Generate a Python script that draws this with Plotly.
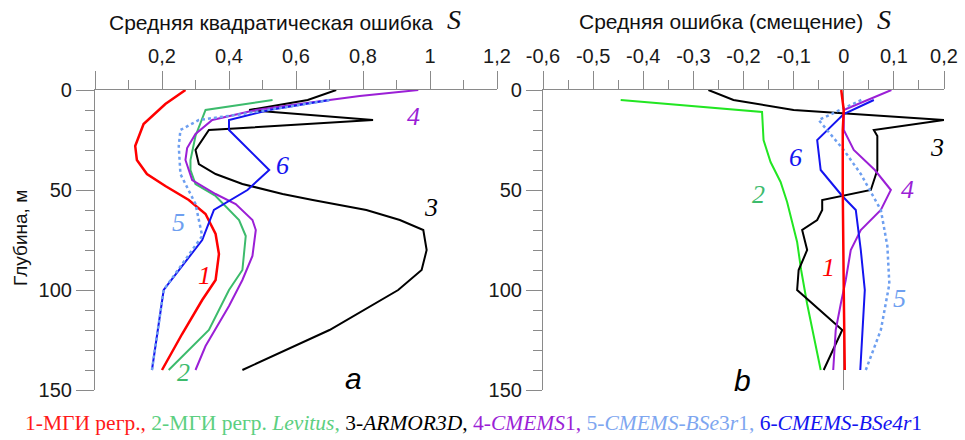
import plotly.graph_objects as go

# ---------------- data: panel a (RMS error) ----------------
a1_depth = [0, 7, 17, 28, 35, 42, 48, 55, 62, 72, 82, 95, 105, 122, 140]
a1_val = [0.27, 0.21, 0.145, 0.12, 0.125, 0.155, 0.21, 0.28, 0.33, 0.36, 0.37, 0.36, 0.32, 0.26, 0.20]

a2_depth = [5, 10, 23, 35, 40, 47, 53, 65, 73, 90, 100, 120, 140]
a2_val = [0.53, 0.33, 0.30, 0.285, 0.285, 0.30, 0.36, 0.43, 0.45, 0.44, 0.40, 0.34, 0.22]

a3_depth = [0, 5, 10, 15, 20, 30, 37, 42, 47, 52, 55, 60, 65, 70, 80, 90, 100, 120, 140]
a3_val = [0.72, 0.635, 0.46, 0.83, 0.34, 0.30, 0.31, 0.36, 0.44, 0.56, 0.65, 0.81, 0.91, 0.98, 0.99, 0.975, 0.905, 0.70, 0.44]

a4_depth = [0, 3, 7, 10, 15, 22, 29, 35, 45, 52, 57, 65, 70, 83, 95, 108, 128, 140]
a4_val = [0.965, 0.79, 0.61, 0.48, 0.35, 0.30, 0.275, 0.27, 0.29, 0.36, 0.42, 0.47, 0.48, 0.47, 0.44, 0.40, 0.33, 0.30]

a5_depth = [5, 12, 15, 20, 28, 42, 57, 65, 73, 100, 140]
a5_val = [0.70, 0.44, 0.31, 0.255, 0.25, 0.255, 0.30, 0.31, 0.32, 0.205, 0.17]

a6_depth = [5, 10, 15, 20, 40, 50, 60, 75, 100, 140]
a6_val = [0.70, 0.52, 0.40, 0.40, 0.52, 0.455, 0.355, 0.32, 0.205, 0.17]

# ---------------- data: panel b (mean error / bias) ----------------
b1_depth = [0, 5, 10, 20, 50, 100, 140]
b1_val = [-0.005, -0.002, 0.0, -0.002, -0.002, 0.0, 0.002]

b2_depth = [5, 11, 25, 36, 46, 56, 66, 76, 90, 107, 140]
b2_val = [-0.445, -0.163, -0.16, -0.146, -0.126, -0.113, -0.103, -0.093, -0.085, -0.073, -0.046]

b3_depth = [0, 5, 10, 15, 20, 23, 40, 50, 55, 60, 65, 70, 80, 90, 100, 120, 140]
b3_val = [-0.27, -0.22, -0.10, 0.20, 0.06, 0.067, 0.067, 0.054, -0.043, -0.043, -0.053, -0.083, -0.073, -0.090, -0.093, -0.003, -0.04]

b4_depth = [0, 10, 20, 30, 40, 50, 60, 70, 80, 95, 107, 120, 140]
b4_val = [0.095, 0.0, 0.0, 0.02, 0.062, 0.094, 0.074, 0.034, 0.014, 0.004, -0.006, -0.016, -0.021]

b5_depth = [5, 15, 30, 42, 60, 78, 97, 120, 140]
b5_val = [0.035, -0.05, 0.0, 0.034, 0.074, 0.087, 0.091, 0.074, 0.044]

b6_depth = [5, 12, 25, 40, 53, 60, 80, 100, 140]
b6_val = [0.06, 0.0, -0.053, -0.046, -0.003, 0.024, 0.034, 0.042, 0.033]

# ---------------- tick labels ----------------
xa_tickvals = [0, 0.2, 0.4, 0.6, 0.8, 1.0, 1.2]
xa_ticktext = ["", "0,2", "0,4", "0,6", "0,8", "1", "1,2"]
xb_tickvals = [-0.6, -0.5, -0.4, -0.3, -0.2, -0.1, 0, 0.1, 0.2]
xb_ticktext = ["-0,6", "-0,5", "-0,4", "-0,3", "-0,2", "-0,1", "0", "0,1", "0,2"]
y_tickvals = [0, 50, 100, 150]
y_ticktext = ["0", "50", "100", "150"]

RED = "#ff0000"
GREEN_A = "#3cbb6c"
GREEN_B = "#22e622"
BLACK = "#000000"
PURPLE = "#9b1fd6"
LBLUE = "#6e9ff0"
BLUE = "#1414f0"

fig = go.Figure()

def add(x, y, color, width, xa, ya, dash="solid"):
    fig.add_trace(go.Scatter(x=x, y=y, mode="lines", xaxis=xa, yaxis=ya,
                             line=dict(color=color, width=width, dash=dash),
                             showlegend=False, hoverinfo="skip"))

add(a1_val, a1_depth, RED, 2.5, "x", "y")
add(a2_val, a2_depth, GREEN_A, 2, "x", "y")
add(a3_val, a3_depth, BLACK, 2, "x", "y")
add(a4_val, a4_depth, PURPLE, 2, "x", "y")
add(a6_val, a6_depth, BLUE, 2, "x", "y")
add(a5_val, a5_depth, LBLUE, 2.5, "x", "y", "dot")

add(b2_val, b2_depth, GREEN_B, 2, "x2", "y2")
add(b3_val, b3_depth, BLACK, 2, "x2", "y2")
add(b4_val, b4_depth, PURPLE, 2, "x2", "y2")
add(b6_val, b6_depth, BLUE, 2, "x2", "y2")
add(b5_val, b5_depth, LBLUE, 2.5, "x2", "y2", "dot")
add(b1_val, b1_depth, RED, 2.5, "x2", "y2")

W, H = 965, 440
def px(v):
    return v / W
def py(v):
    return 1 - v / H

AX = "#8a8a8a"
TICKFONT = dict(family="Liberation Sans, Arial", size=20, color="#1a1a1a")

common_x = dict(side="top", showline=True, linecolor=AX, linewidth=1.2,
                ticks="outside", ticklen=18, tickcolor=AX, tickwidth=1.2,
                showgrid=False, tickfont=TICKFONT, fixedrange=True, automargin=False)
common_y = dict(autorange=False, range=[150, 0], showline=True, linecolor=AX, linewidth=1.2,
                ticks="outside", ticklen=18, tickcolor=AX, tickwidth=1.2,
                showgrid=False, zeroline=False, tickfont=TICKFONT, automargin=False,
                tickvals=y_tickvals, ticktext=y_ticktext,
                minor=dict(dtick=10, tick0=0, ticks="outside", ticklen=9, tickcolor=AX, tickwidth=1.2),
                domain=[py(390), py(90)])

fig.update_layout(
    width=W, height=H,
    margin=dict(l=0, r=0, t=0, b=0, autoexpand=False),
    plot_bgcolor="white", paper_bgcolor="white",
    xaxis=dict(common_x, range=[0, 1.2], domain=[px(95), px(497)], anchor="y",
               tickvals=xa_tickvals, ticktext=xa_ticktext, zeroline=False,
               minor=dict(dtick=0.1, tick0=0, ticks="outside", ticklen=9, tickcolor=AX, tickwidth=1.2)),
    yaxis=dict(common_y, anchor="x"),
    xaxis2=dict(common_x, range=[-0.6, 0.2], domain=[px(543), px(944)], anchor="y2",
                tickvals=xb_tickvals, ticktext=xb_ticktext,
                zeroline=True, zerolinecolor=AX, zerolinewidth=1.2,
                minor=dict(dtick=0.05, tick0=0, ticks="outside", ticklen=9, tickcolor=AX, tickwidth=1.2)),
    yaxis2=dict(common_y, anchor="x2", ticklen=16),
)

ann = []
SANS = "Liberation Sans, Arial"
SERIF = "Liberation Serif, Times New Roman"
# axis titles
ann.append(dict(x=px(271), y=py(22), text="Средняя квадратическая ошибка", font=dict(family=SANS, size=21, color="#111")))
ann.append(dict(x=px(454), y=py(20), text="<i>S</i>", font=dict(family=SERIF, size=28, color="#111")))
ann.append(dict(x=px(721), y=py(21), text="Средняя ошибка (смещение)", font=dict(family=SANS, size=21, color="#111")))
ann.append(dict(x=px(884), y=py(20), text="<i>S</i>", font=dict(family=SERIF, size=28, color="#111")))
ann.append(dict(x=px(20), y=py(238), text="Глубина, м", textangle=-90, font=dict(family=SANS, size=19, color="#111")))
# panel labels
ann.append(dict(x=px(353), y=py(378), text="<i>a</i>", font=dict(family=SANS, size=30, color="#000")))
ann.append(dict(x=px(742), y=py(380), text="<i>b</i>", font=dict(family=SANS, size=30, color="#000")))
# curve labels
lab = [
    (413, 116, "4", PURPLE), (282, 165, "6", BLUE), (431, 207, "3", BLACK),
    (178, 222, "5", LBLUE), (204, 275, "1", RED), (183, 372, "2", GREEN_A),
    (758, 195, "2", GREEN_A), (795, 157, "6", BLUE), (937, 147, "3", BLACK),
    (907, 189, "4", PURPLE), (828, 267, "1", RED), (899, 298, "5", LBLUE),
]
for x, y, t, c in lab:
    ann.append(dict(x=px(x), y=py(y), text="<i>" + t + "</i>", font=dict(family=SERIF, size=26, color=c)))

legend_html = (
    "<span style='color:#ff1a1a'>1-МГИ регр.,</span> "
    "<span style='color:#5ccf80'>2-МГИ регр. <i>Levitus</i>,</span> "
    "<span style='color:#000000'>3-<i>ARMOR3D</i>,</span> "
    "<span style='color:#9b1fd6'>4-<i>CMEMS</i>1,</span> "
    "<span style='color:#7ea6f0'>5-<i>CMEMS-BSe</i>3<i>r</i>1,</span> "
    "<span style='color:#1414f0'>6-<i>CMEMS-BSe4r</i>1</span>"
)
ann.append(dict(x=px(473), y=py(423), text=legend_html, font=dict(family=SERIF, size=21.5, color="#000")))

for a in ann:
    a.update(xref="paper", yref="paper", showarrow=False, xanchor="center", yanchor="middle")
fig.update_layout(annotations=ann)

fig.write_html("out.html", config={"displayModeBar": False},
               post_script="document.body.style.margin='0px';document.body.style.overflow='hidden';")
